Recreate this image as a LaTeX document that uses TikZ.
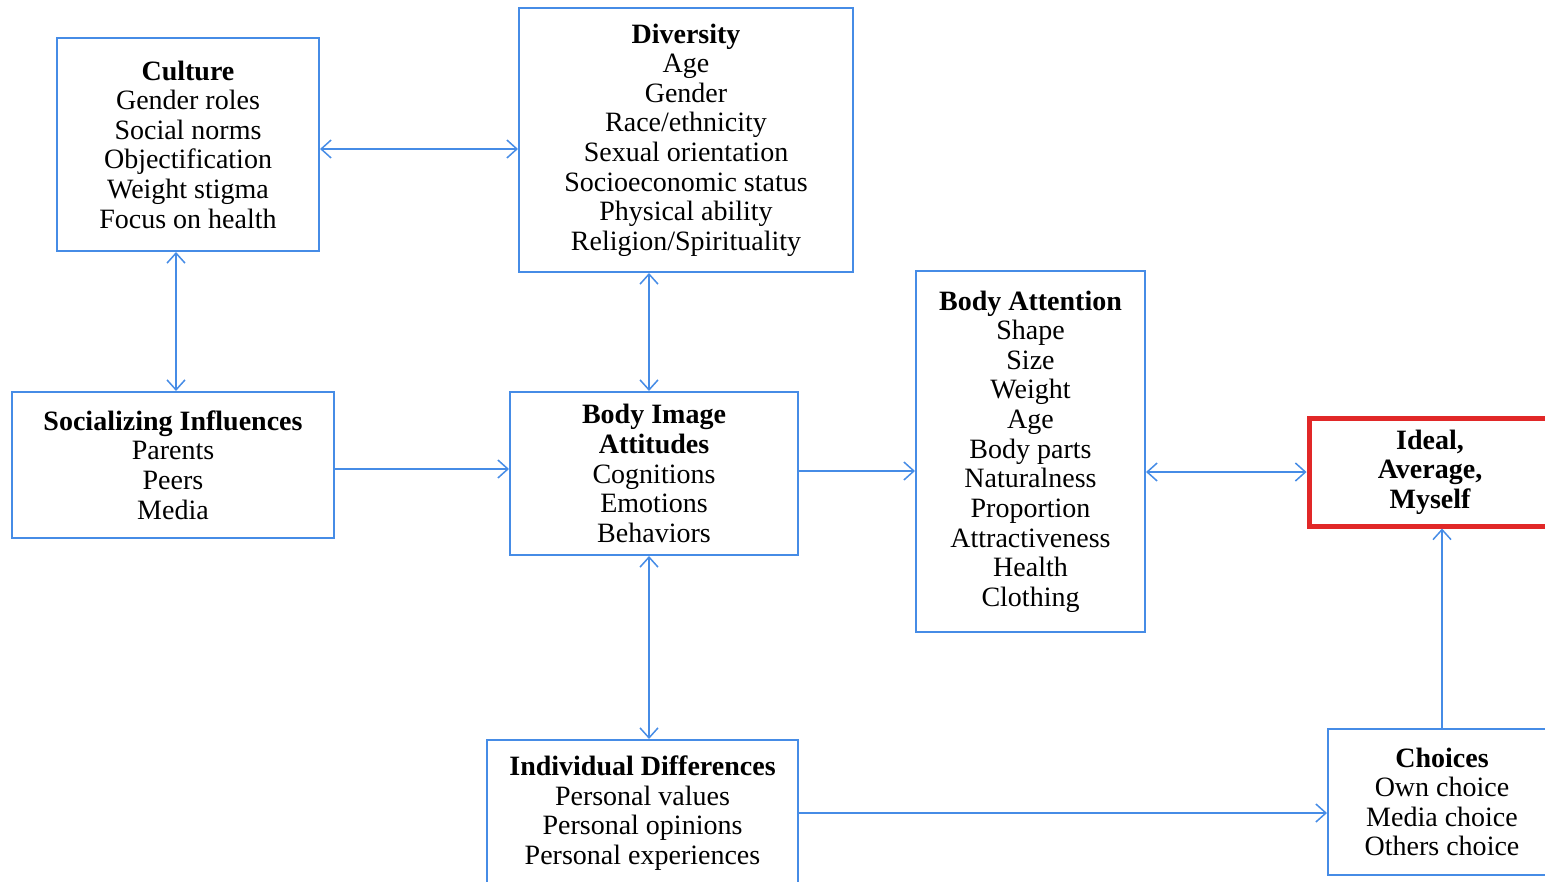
\documentclass[tikz,border=0pt]{standalone}
\usepackage{fontspec}
\setmainfont{Liberation Serif}
\usetikzlibrary{arrows.meta,positioning}
\definecolor{linkblue}{RGB}{70,140,230}
\definecolor{focusred}{RGB}{225,40,40}

\begin{document}
\begin{tikzpicture}[x=0.5pt, y=-0.5pt,
  box/.style={draw=linkblue, line width=1pt, align=center, inner sep=2pt, font=\fontsize{14}{14.8}\selectfont},
  focus/.style={box, draw=focusred, line width=2.5pt, font=\fontsize{14}{14.8}\selectfont\bfseries},
  arrow/.style={-{Straight Barb[length=5pt,width=9pt]}, draw=linkblue, line width=0.75pt},
  both/.style={arrow, {Straight Barb[length=5pt,width=9pt]}-{Straight Barb[length=5pt,width=9pt]}},
]
\useasboundingbox (0,0) rectangle (1545,882);
\clip (0,0) rectangle (1545,882);
% --- top row ---
\node[box, minimum width=131pt, minimum height=106.5pt] (culture) at (188,144.5)
  {\textbf{Culture}\\ Gender roles\\ Social norms\\ Objectification\\ Weight stigma\\ Focus on health};
\node[box, minimum width=167pt, minimum height=132pt] (diversity) at (686,140)
  {\textbf{Diversity}\\ Age\\ Gender\\ Race/ethnicity\\ Sexual orientation\\ Socioeconomic status\\ Physical ability\\ Religion/Spirituality};
% --- middle row ---
\node[box, minimum width=161pt, minimum height=73pt] (social) at (173,465)
  {\textbf{Socializing Influences}\\ Parents\\ Peers\\ Media};
\node[box, minimum width=144pt, minimum height=81.5pt] (image) at (654,473.5)
  {\textbf{Body Image}\\ \textbf{Attitudes}\\ Cognitions\\ Emotions\\ Behaviors};
\node[box, minimum width=114.5pt, minimum height=180.5pt] (attention) at (1030.5,451.5)
  {\textbf{Body Attention}\\ Shape\\ Size\\ Weight\\ Age\\ Body parts\\ Naturalness\\ Proportion\\ Attractiveness\\ Health\\ Clothing};
\node[focus, minimum width=121pt, minimum height=54pt] (ideal) at (1430,472)
  {Ideal,\\ Average,\\ Myself};
% --- bottom row ---
\node[box, minimum width=155.5pt, minimum height=73pt] (indiv) at (642.5,813)
  {\textbf{Individual Differences}\\ Personal values\\ Personal opinions\\ Personal experiences};
\node[box, minimum width=114pt, minimum height=73pt] (choices) at (1442,802)
  {\textbf{Choices}\\ Own choice\\ Media choice\\ Others choice};
% --- arrows ---
\draw[both] ([yshift=-2.25pt]culture.east) -- ([yshift=-2.25pt]culture.east -| diversity.west);
\draw[both] ([xshift=1.5pt]social.north) -- ([xshift=1.5pt]social.north |- culture.south);
\draw[both] ([xshift=-2.5pt]image.north) -- ([xshift=-2.5pt]image.north |- diversity.south);
\draw[arrow] ([yshift=-2pt]social.east) -- ([yshift=-2pt]social.east -| image.west);
\draw[arrow] ([yshift=1.25pt]image.east) -- ([yshift=1.25pt]image.east -| attention.west);
\draw[both] (attention.east |- ideal.west) -- (ideal.west);
\draw[both] ([xshift=-2.5pt]image.south) -- ([xshift=-2.5pt]image.south |- indiv.north);
\draw[arrow] (indiv.east) -- (indiv.east -| choices.west);
\draw[arrow] (choices.north) -- (choices.north |- ideal.south);
\end{tikzpicture}
\end{document}
